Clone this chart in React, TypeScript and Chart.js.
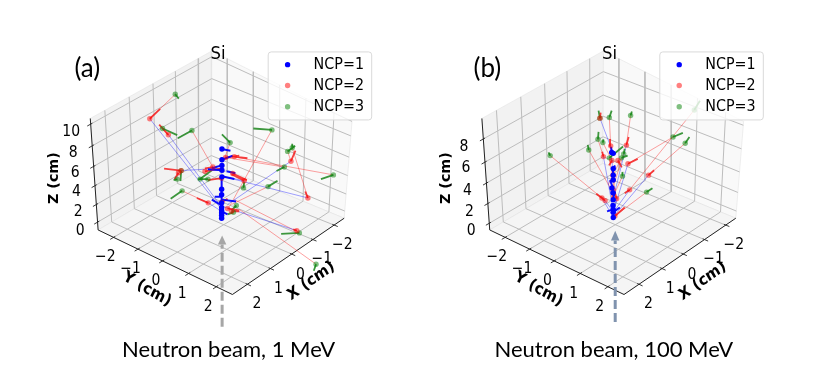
import React, { useEffect, useRef } from "react";
import { Chart, registerables } from "chart.js";

Chart.register(...registerables);

type P = [number, number];
type Seg = [number, number, number, number];

const seriesNames = ["NCP=1", "NCP=2", "NCP=3"];
const seriesColors = ["rgba(0,0,255,1)", "rgba(255,0,0,0.5)", "rgba(0,128,0,0.5)"];
const arrowColors = ["rgba(0,0,255,0.95)", "rgba(245,30,30,0.85)", "rgba(40,140,40,0.9)"];

// NCP=1 vertices and scattering direction stubs
const ncp1PointsA: P[] = [[222.3,148.3],[222.3,159.3],[222.3,165],[222.3,170],[222.3,176.7],[222,189.3],[222,195],[222,203.3],[222,208],[222,211],[222,213.3],[222,216],[222,219]];
const ncp1ArrowsA: Seg[] = [[222,148.3,231,150],[222,159.3,233.3,155],[222,170,208,169],[222,176.7,222,189],[222,176,235,179],[227,171,236,173],[222,197,215,197],[222,200,236.7,202],[222,206,212,200],[222,212,228,215],[222,165,212,168],[222,189,222,219]];
const ncp2ArrowsA: Seg[] = [[148.7,117.3,159.3,107.3],[167.7,133.7,158.3,123.3],[213,166.7,205,168],[235,156,248.3,157.7],[226,157,240,155],[292.7,160.7,297.3,150],[310,198.3,307.3,191.7],[245,180.7,232,174],[208.3,203.3,196.7,198.3],[180.7,170.3,163.3,168.3],[178,172.5,174,179],[222,178,208,180],[222,203,228,199],[228,209,240,211],[232,212,240,212],[298.7,231.7,295,230.5],[233.3,173.3,247.7,180],[205,171,222,168]];
const ncp3ArrowsA: Seg[] = [[174.7,92.3,178.3,96.7],[191.7,129.3,177.3,137.3],[161.7,127.3,176.7,134],[230.7,141.7,222.3,133.3],[273.3,128.7,254.3,127.3],[289.3,150.7,297,145],[294,147,294,143],[336,174.7,323.3,179],[286,166.7,278,170.7],[269.3,186.7,279,180.7],[244.3,188,245,182],[181.7,191,170,199],[180.7,170.3,180,181],[176.7,179,173,180],[200,179,212,170],[208,179,198,179],[237,206,232,211],[234,213,228,215],[301.3,234,282.7,235],[318.3,266,316,272.7]];
const blueLinksA: Seg[] = [[148.7,117.3,222,210],[167.7,133.7,220,205],[180.7,170.3,222,168],[292.7,160.7,228,205],[222,176,310,198.3],[298.7,231.7,223,207],[208,203,222,212],[233,156,222,159],[245,180.7,222,176]];
const redLinksA: Seg[] = [[148.7,117.3,174.7,92.3],[167.7,133.7,161.7,127.3],[213,166.7,191.7,129.3],[273.3,128.7,230,207],[292.7,160.7,289.3,150.7],[294,147,310,198.3],[233.3,156,336,174.7],[226,157,286,166.7],[245,180.7,244,186.7],[232,205,269.3,186.7],[208.3,203.3,181.7,191],[235,200,301.3,234],[240,210,318.3,266],[230.7,141.7,225,158]];

const ncp1PointsB: P[] = [[611.7,151.7],[613.3,152.7],[613.3,168.3],[613.3,175],[613.3,180],[612,188],[613,193],[613.3,200],[613,206],[613.3,210],[613.3,213],[613.3,218.3]];
const ncp1ArrowsB: Seg[] = [[613,210,607,212],[613,213,620,208],[613.3,170,615,165],[612,152,611,146],[613,188,610,180],[613,175,613,168],[613,200,615,192]];
const ncp2ArrowsB: Seg[] = [[599.7,116.7,600.5,111],[610.7,145,610,138],[626.7,144.3,629,136],[603.3,156,602,151],[612,160,609,165],[628.3,163.3,638.3,158.3],[649.3,175,655,170],[630,190,625,193.5],[601.7,198.3,596,194],[605,201,600,196.7],[616.7,199,615,193],[615,216.7,625,208],[613,175,613,182],[618,160,622,167],[613,190,612,200]];
const ncp3ArrowsB: Seg[] = [[599.7,116.7,598.3,109],[609.3,116,611.7,109],[631,114,632.3,110],[597.7,138.3,598.3,130.7],[602.7,141.7,603.3,138.3],[588.3,149.3,587.3,144],[549,155,547.3,151.7],[696,108.3,701.7,99],[674.3,136,684.3,131.7],[686.7,142.3,691,136],[647.3,192.3,653.3,188.3],[609.3,157.3,623.3,145.7],[624,153.3,625,148],[621.7,157.3,628,155],[622.7,176,622.7,171.7]];
const blueLinksB: Seg[] = [[599.7,116.7,613,152],[610.7,145,613.3,175],[626.7,144.3,613,200],[603.3,156,613,210],[628.3,163.3,613.3,213],[649.3,175,613,218],[630,190,613.3,213],[601.7,198.3,613.3,218],[616.7,199,613,216],[605,201,613,212]];
const redLinksB: Seg[] = [[609.3,116,610.7,145],[631,114,626.7,144.3],[597.7,138.3,603.3,156],[602.7,141.7,612,160],[588.3,149.3,613.3,193.3],[549,155,605,201],[696,108.3,630,190],[674.3,136,628.3,163.3],[686.7,142.3,649.3,175],[647.3,192.3,615,216.7],[609.3,157.3,616.7,199],[624,153.3,612,190],[621.7,157.3,608,185],[622.7,176,614,195]];

// Box outline of the 3-D axes
const cornerL: P = [96, 231];
const cornerB: P = [211.5, 163];
const cornerR: P = [347, 219];
const cornerF: P = [233, 297];
const cornerLT: P = [88, 117];
const cornerBT: P = [212, 48];
const cornerRT: P = [355, 120];

const xTickWall = [0.12, 0.32, 0.516, 0.7, 0.887];
const xTickFront = [0.134, 0.34, 0.53, 0.72, 0.91];
const yTickWallTop = [0.11, 0.296, 0.483, 0.671, 0.872];
const yTickWallBottom = [0.12, 0.316, 0.514, 0.69, 0.885];
const yTickFront = [0.115, 0.297, 0.48, 0.674, 0.88];
const zTickLeftA = [0.07, 0.228, 0.397, 0.57, 0.754, 0.949];
const zTickRightA = [0.074, 0.25, 0.44, 0.63, 0.85, 1];
const zTickLeftB = [0.06, 0.237, 0.42, 0.608, 0.816];
const zTickRightB = [0.074, 0.266, 0.478, 0.717, 0.96];

const zLabelsA: [string, number, number][] = [["0",77.7,231.7],["2",75.7,212.3],["4",74,192.7],["6",72.7,172.7],["8",70.7,152.3],["10",68.5,131]];
const zLabelsB: [string, number, number][] = [["0",468.3,232.3],["2",466.7,212.3],["4",464.7,190.7],["6",463,167.7],["8",461,146]];
const yLabels: [string, number, number][] = [["\u22122",103.3,258.3],["\u22121",129,270.7],["0",155,283.3],["1",181.7,296.7],["2",208.3,310]];
const xLabels: [string, number, number][] = [["2",258,306.7],["1",280,291.7],["0",302.3,276.7],["\u22121",324.3,261],["\u22122",345,246.7]];

const PANEL_B_SHIFT = 391.3;

const panels = [
  { tag: "(a)", tagX: 85, caption: "Neutron beam, 1 MeV", captionX: 229, shift: 0, xMin: 0, pts: ncp1PointsA, a1: ncp1ArrowsA, a2: ncp2ArrowsA, a3: ncp3ArrowsA, blue: blueLinksA, red: redLinksA, zLeft: zTickLeftA, zRight: zTickRightA, zLab: zLabelsA, beam: "#a6a6a6", beamX: 222.5, beamY0: 330, beamTip: 236.7, beamBase: 246 },
  { tag: "(b)", tagX: 485, caption: "Neutron beam, 100 MeV", captionX: 613.8, shift: PANEL_B_SHIFT, xMin: 407, pts: ncp1PointsB, a1: ncp1ArrowsB, a2: ncp2ArrowsB, a3: ncp3ArrowsB, blue: blueLinksB, red: redLinksB, zLeft: zTickLeftB, zRight: zTickRightB, zLab: zLabelsB, beam: "#8093ae", beamX: 615.3, beamY0: 325, beamTip: 231.7, beamBase: 241.7 },
];

const lerp = (a: P, b: P, t: number): P => [a[0] + (b[0] - a[0]) * t, a[1] + (b[1] - a[1]) * t];
const gap = { x: NaN, y: NaN };

function polyline(parts: P[][], dx = 0) {
  const out: { x: number; y: number }[] = [];
  parts.forEach((p) => {
    p.forEach((q) => out.push({ x: q[0] + dx, y: q[1] }));
    out.push(gap);
  });
  return out;
}
const segs = (s: Seg[]) => s.map((q) => [[q[0], q[1]], [q[2], q[3]]] as P[]);

function stub(p: P, towards: P, inward: number, outward: number): P[] {
  const dx = towards[0] - p[0];
  const dy = towards[1] - p[1];
  const n = Math.hypot(dx, dy);
  return [[p[0] + (dx / n) * inward, p[1] + (dy / n) * inward], [p[0] - (dx / n) * outward, p[1] - (dy / n) * outward]];
}

function buildDatasets(pn: (typeof panels)[number]) {
  const d = pn.shift;
  const grid: P[][] = [];
  const ticks: P[][] = [];
  xTickWall.forEach((t, i) => {
    const top = lerp(cornerLT, cornerBT, t);
    const bot = lerp(cornerL, cornerB, t);
    const front = lerp(cornerF, cornerR, xTickFront[i]);
    grid.push([top, bot, front]);
    ticks.push(stub(front, bot, 2, 4));
  });
  yTickWallTop.forEach((t, i) => {
    const top = lerp(cornerBT, cornerRT, t);
    const bot = lerp(cornerB, cornerR, yTickWallBottom[i]);
    const front = lerp(cornerL, cornerF, yTickFront[i]);
    grid.push([top, bot, front]);
    ticks.push(stub(front, bot, 2, 4));
  });
  pn.zLeft.forEach((z, i) => {
    const l = lerp(cornerL, cornerLT, z);
    const b = lerp(cornerB, cornerBT, z);
    const r = lerp(cornerR, cornerRT, pn.zRight[i]);
    grid.push([l, b, r]);
    ticks.push(stub(l, b, 2, 4));
  });
  const line = (label: string, data: any[], color: string, width: number, extra: any = {}) => ({
    label, data, showLine: true, borderColor: color, borderWidth: width, pointRadius: 0, fill: false, spanGaps: false, clip: false, ...extra,
  });
  const dots = (label: string, data: any[], color: string) => ({
    label, data, showLine: false, backgroundColor: color, borderWidth: 0, pointRadius: 2.7, clip: false,
  });
  const starts = (s: Seg[]) => s.map((q) => ({ x: q[0], y: q[1] }));
  const pane = (label: string, pts: P[], c: string) =>
    line(label, polyline([[...pts, pts[0]]], d).slice(0, -1), "rgba(225,225,225,0.9)", 0.6, { fill: "shape", backgroundColor: c });
  return [
    // Earlier datasets are painted on top.
    { label: "Beam head", data: polyline([[[pn.beamX, pn.beamTip], [pn.beamX + 4.3, pn.beamBase], [pn.beamX - 4.3, pn.beamBase], [pn.beamX, pn.beamTip]]]).slice(0, -1), showLine: true, borderWidth: 0, pointRadius: 0, fill: "shape", backgroundColor: pn.beam, clip: false },
    line("Beam", polyline([[[pn.beamX, pn.beamY0], [pn.beamX, pn.beamBase]]]), pn.beam, 3, { borderDash: [9, 4] }),
    dots(seriesNames[0], pn.pts, seriesColors[0]),
    dots(seriesNames[1], starts(pn.a2), seriesColors[1]),
    dots(seriesNames[2], starts(pn.a3), seriesColors[2]),
    line("NCP=1 direction", polyline(segs(pn.a1)), arrowColors[0], 2),
    line("NCP=2 direction", polyline(segs(pn.a2)), arrowColors[1], 1.8),
    line("NCP=3 direction", polyline(segs(pn.a3)), arrowColors[2], 1.8),
    line("Links 1-2", polyline(segs(pn.blue)), "rgba(40,40,255,0.55)", 0.8),
    line("Links 2-3", polyline(segs(pn.red)), "rgba(250,40,40,0.55)", 0.8),
    line("Axis lines", polyline([[cornerLT, cornerL, cornerF, cornerR]], d), "#222", 1),
    line("Ticks", polyline(ticks, d), "#222", 0.9),
    line("Grid", polyline(grid, d), "#bdbdbd", 1),
    pane("Floor", [cornerL, cornerF, cornerR, cornerB], "rgb(245,245,245)"),
    pane("Right wall", [cornerB, cornerR, cornerRT, cornerBT], "rgb(249,249,249)"),
    pane("Left wall", [cornerL, cornerB, cornerBT, cornerLT], "rgb(242,242,242)"),
  ];
}

const SANS = '"DejaVu Sans", sans-serif';
const STRETCH = 1.1;

function makeOverlay(pn: (typeof panels)[number]) {
  return {
    id: "overlay",
    afterDraw(chart: any) {
      const c: CanvasRenderingContext2D = chart.ctx;
      const sx = (v: number) => chart.scales.x.getPixelForValue(v);
      const sy = (v: number) => chart.scales.y.getPixelForValue(v);
      const d = pn.shift;
      const put = (s: string, x: number, y: number, font: string, rot = 0, k = STRETCH) => {
        c.save();
        c.translate(sx(x), sy(y));
        c.scale(1, k);
        c.rotate((rot * Math.PI) / 180);
        c.font = font;
        c.fillStyle = "#000";
        c.textAlign = "center";
        c.textBaseline = "middle";
        c.fillText(s, 0, 0);
        c.restore();
      };
      const tickFont = `14px ${SANS}`;
      pn.zLab.forEach(([s, x, y]) => put(s, x, y, tickFont));
      yLabels.forEach(([s, x, y]) => put(s, x + d, y, tickFont));
      xLabels.forEach(([s, x, y]) => put(s, x + d, y, tickFont));
      put("Y (cm)", 146 + d, 291.7, `bold 14.5px ${SANS}`, 28);
      put("X (cm)", 313.3 + d, 283.3, `bold 14.5px ${SANS}`, -33);
      put("Z (cm)", 51.7 + d, 178, `bold 14.3px ${SANS}`, -90, 1);
      put("Si", 218.3 + d, 51.7, `16.5px ${SANS}`);
      put(pn.tag, pn.tagX, 66, "26px Lato, sans-serif", 0, 1);
      put(pn.caption, pn.captionX, 354, "22px Lato, sans-serif", 0, 1);

      // legend
      const lx = sx(269.5 + d);
      const ly = sy(49);
      c.save();
      c.beginPath();
      c.roundRect(lx, ly, 103.5, 68, 3);
      c.fillStyle = "rgba(255,255,255,0.8)";
      c.fill();
      c.strokeStyle = "#d9d9d9";
      c.lineWidth = 1;
      c.stroke();
      c.restore();
      [62, 83.3, 105].forEach((y, i) => {
        c.save();
        c.beginPath();
        c.arc(sx(289.3 + d), sy(y), 2.7, 0, Math.PI * 2);
        c.fillStyle = seriesColors[i];
        c.fill();
        c.restore();
        put(seriesNames[i], 341.5 + d, y, `14.3px ${SANS}`);
      });
    },
  };
}

function Panel({ index }: { index: number }) {
  const ref = useRef<HTMLCanvasElement>(null);
  useEffect(() => {
    const pn = panels[index];
    const chart = new Chart(ref.current as HTMLCanvasElement, {
      type: "scatter",
      data: { datasets: buildDatasets(pn) as any },
      options: {
        animation: false,
        responsive: false,
        devicePixelRatio: 1,
        layout: { padding: 0 },
        plugins: { legend: { display: false }, title: { display: false }, tooltip: { enabled: false } },
        scales: {
          x: { type: "linear", display: false, min: pn.xMin, max: pn.xMin + 407 },
          y: { type: "linear", display: false, min: 0, max: 366, reverse: true },
        },
      },
      plugins: [makeOverlay(pn)],
    });
    return () => chart.destroy();
  }, [index]);
  return (
    <canvas
      ref={ref}
      width={407}
      height={366}
      style={{ position: "absolute", left: index * 407, top: 0, width: 407, height: 366 }}
    />
  );
}

export default function App() {
  return (
    <div style={{ position: "fixed", left: 0, top: 0, width: 814, height: 366, background: "#fff", overflow: "hidden" }}>
      <Panel index={0} />
      <Panel index={1} />
    </div>
  );
}
